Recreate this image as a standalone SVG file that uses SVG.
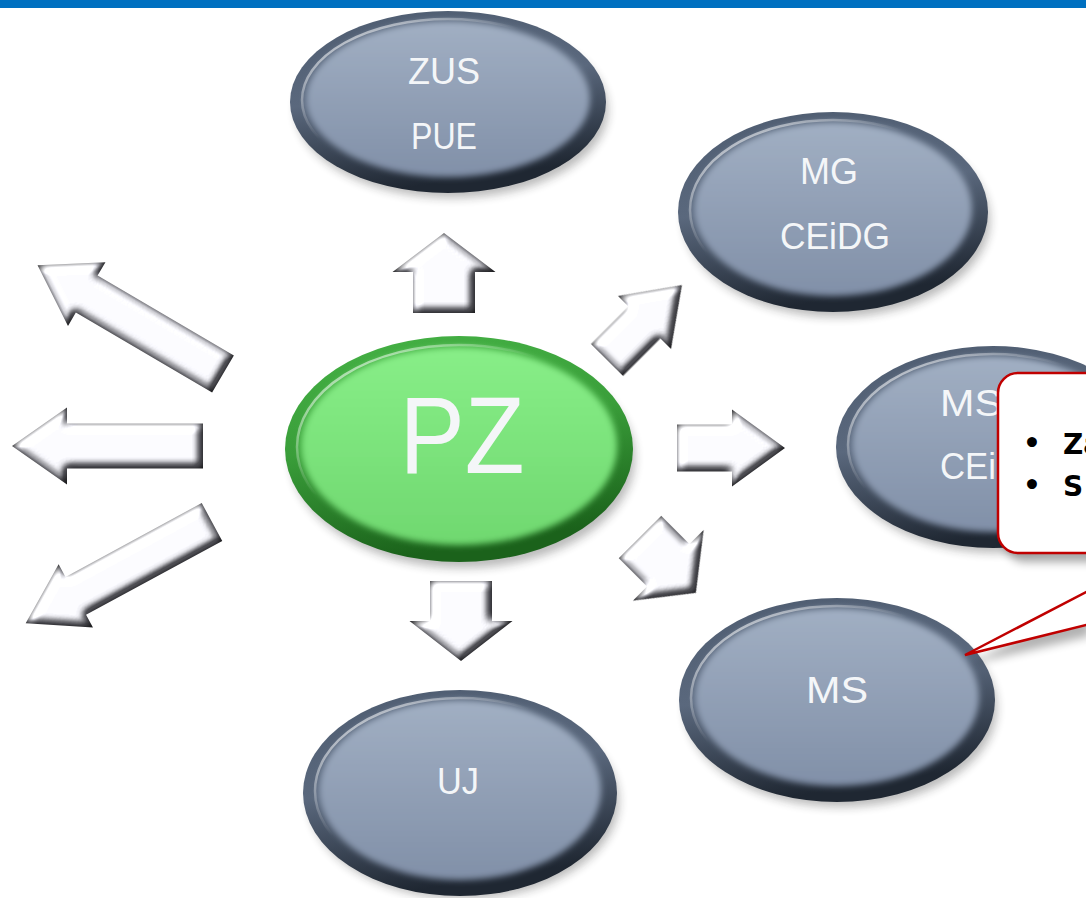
<svg xmlns="http://www.w3.org/2000/svg" width="1086" height="898" viewBox="0 0 1086 898">
<defs>
<style>
.rim{fill:url(#rimG)}
.face{fill:url(#faceG);filter:url(#soft)}
.hl{fill:none;stroke:url(#hlG);stroke-width:2.5}
.grim{fill:url(#grimG)}
.gface{fill:url(#gfaceG);filter:url(#soft)}
.shadow{fill:#1a1a1a;opacity:0.3;filter:url(#blur)}
.lbl{font-family:"Liberation Sans",Arial,sans-serif;fill:#F4F6F8;text-anchor:middle;font-size:36px}
.big{font-size:110px}
.arr{fill:#ffffff}
.ctext{font-family:"DejaVu Sans",Verdana,sans-serif;font-weight:bold;font-size:28px;fill:#000}
</style>
<linearGradient id="rimG" x1="0" y1="0" x2="0.25" y2="1">
<stop offset="0" stop-color="#4E5C70"/><stop offset="0.5" stop-color="#5A687D"/><stop offset="1" stop-color="#1F2732"/>
</linearGradient>
<linearGradient id="faceG" x1="0" y1="0" x2="0" y2="1">
<stop offset="0" stop-color="#A1AFC3"/><stop offset="1" stop-color="#8190A8"/>
</linearGradient>
<linearGradient id="hlG" x1="0" y1="0" x2="1" y2="1">
<stop offset="0" stop-color="#ffffff" stop-opacity="0.85"/><stop offset="0.4" stop-color="#ffffff" stop-opacity="0"/>
</linearGradient>
<linearGradient id="grimG" x1="0" y1="0" x2="0.25" y2="1">
<stop offset="0" stop-color="#45B245"/><stop offset="0.5" stop-color="#3A9E3A"/><stop offset="1" stop-color="#1B621B"/>
</linearGradient>
<linearGradient id="gfaceG" x1="0" y1="0" x2="0" y2="1">
<stop offset="0" stop-color="#88EE88"/><stop offset="1" stop-color="#70D870"/>
</linearGradient>
<filter id="blur" x="-20%" y="-20%" width="140%" height="160%"><feGaussianBlur stdDeviation="5"/></filter>
<filter id="soft" x="-10%" y="-10%" width="120%" height="120%"><feGaussianBlur stdDeviation="3"/></filter>
<filter id="bev" x="-5%" y="-5%" width="110%" height="110%" color-interpolation-filters="sRGB">
<feGaussianBlur in="SourceAlpha" stdDeviation="4.5" result="b"/>
<feDiffuseLighting in="b" surfaceScale="10" diffuseConstant="1.25" lighting-color="#ffffff" result="d"><feDistantLight azimuth="225" elevation="50"/></feDiffuseLighting>
<feComponentTransfer in="d" result="d2"><feFuncR type="linear" slope="0.72" intercept="0.3"/><feFuncG type="linear" slope="0.72" intercept="0.3"/><feFuncB type="linear" slope="0.72" intercept="0.32"/></feComponentTransfer>
<feColorMatrix in="b" type="matrix" values="0 0 0 1 0  0 0 0 1 0  0 0 0 1 0  0 0 0 0 1" result="e"/>
<feComponentTransfer in="e" result="e2"><feFuncR type="linear" slope="1.35" intercept="-0.02"/><feFuncG type="linear" slope="1.35" intercept="-0.02"/><feFuncB type="linear" slope="1.35" intercept="-0.01"/></feComponentTransfer>
<feComposite in="d2" in2="e2" operator="arithmetic" k1="1" k2="0" k3="0" k4="0" result="m"/>
<feComposite in="m" in2="SourceAlpha" operator="in"/>
</filter>
</defs>

<rect x="0" y="0" width="1086" height="8" fill="#0070C0"/>

<g id="node-zus">
<ellipse class="shadow" cx="452" cy="110" rx="156" ry="88"/>
<ellipse class="rim" cx="448" cy="102" rx="158" ry="91"/>
<ellipse class="face" cx="448" cy="99" rx="142" ry="78"/>
<ellipse class="hl" cx="448" cy="100" rx="146" ry="81"/>
<text class="lbl" x="444" y="84" textLength="72" lengthAdjust="spacingAndGlyphs">ZUS</text>
<text class="lbl" x="444" y="149" textLength="66" lengthAdjust="spacingAndGlyphs">PUE</text>
</g>

<g id="node-mg">
<ellipse class="shadow" cx="837" cy="220" rx="153" ry="97"/>
<ellipse class="rim" cx="833" cy="212" rx="155" ry="100"/>
<ellipse class="face" cx="833" cy="209" rx="139" ry="87"/>
<ellipse class="hl" cx="833" cy="210" rx="143" ry="90"/>
<text class="lbl" x="829" y="184" textLength="58" lengthAdjust="spacingAndGlyphs">MG</text>
<text class="lbl" x="835" y="249" textLength="110" lengthAdjust="spacingAndGlyphs">CEiDG</text>
</g>

<g id="node-ms-ceidg">
<ellipse class="shadow" cx="997" cy="455" rx="155" ry="98"/>
<ellipse class="rim" cx="993" cy="447" rx="157" ry="101"/>
<ellipse class="face" cx="993" cy="444" rx="141" ry="88"/>
<ellipse class="hl" cx="993" cy="445" rx="145" ry="91"/>
<text class="lbl" x="971" y="416" textLength="62" lengthAdjust="spacingAndGlyphs">MS</text>
<text class="lbl" x="940" y="479" style="text-anchor:start" textLength="56" lengthAdjust="spacingAndGlyphs">CEi</text>
</g>

<g id="node-ms">
<ellipse class="shadow" cx="841" cy="708" rx="156" ry="99"/>
<ellipse class="rim" cx="837" cy="700" rx="158" ry="102"/>
<ellipse class="face" cx="837" cy="697" rx="142" ry="89"/>
<ellipse class="hl" cx="837" cy="698" rx="146" ry="92"/>
<text class="lbl" x="837" y="703" textLength="62" lengthAdjust="spacingAndGlyphs">MS</text>
</g>

<g id="node-uj">
<ellipse class="shadow" cx="464" cy="801" rx="155" ry="98"/>
<ellipse class="rim" cx="460" cy="793" rx="157" ry="103"/>
<ellipse class="face" cx="460" cy="790" rx="141" ry="90"/>
<ellipse class="hl" cx="460" cy="791" rx="145" ry="93"/>
<text class="lbl" x="458" y="794" textLength="42" lengthAdjust="spacingAndGlyphs">UJ</text>
</g>

<g id="node-pz">
<ellipse class="shadow" cx="463" cy="458" rx="172" ry="110"/>
<ellipse class="grim" cx="459" cy="449" rx="174" ry="113"/>
<ellipse class="gface" cx="459" cy="446" rx="158" ry="99"/>
<ellipse class="hl" cx="459" cy="447" rx="162" ry="102"/>
<text class="lbl big" x="462" y="473" textLength="125" lengthAdjust="spacingAndGlyphs">PZ</text>
</g>

<g id="connectors" filter="url(#bev)">
<polygon class="arr" transform="translate(444,313) rotate(-90)" points="0,-31 41,-31 41,-51.5 80,0 41,51.5 41,31 0,31"/>
<polygon class="arr" transform="translate(607,360) rotate(-45)" points="0,-22.5 53,-22.5 53,-37.5 106,0 53,37.5 53,22.5 0,22.5"/>
<polygon class="arr" transform="translate(677,448) rotate(0)" points="0,-23.5 55,-23.5 55,-38.5 108,0 55,38.5 55,23.5 0,23.5"/>
<polygon class="arr" transform="translate(640,537) rotate(45)" points="0,-30 40,-30 40,-50 79,0 40,50 40,30 0,30"/>
<polygon class="arr" transform="translate(461,581) rotate(90)" points="0,-31 40,-31 40,-51.5 80,0 40,51.5 40,31 0,31"/>
<polygon class="arr" transform="translate(223,374) rotate(210.4)" points="0,-21.5 158,-21.5 158,-37 215,0 158,37 158,21.5 0,21.5"/>
<polygon class="arr" transform="translate(203,446) rotate(180)" points="0,-22.5 136,-22.5 136,-38.5 191,0 136,38.5 136,22.5 0,22.5"/>
<polygon class="arr" transform="translate(212,522) rotate(151.5)" points="0,-21.5 155,-21.5 155,-36 212,0 155,36 155,21.5 0,21.5"/>
</g>

<g id="callout">
<rect x="1005" y="382" width="140" height="180" rx="20" fill="#000" opacity="0.35" filter="url(#blur)"/>
<polygon points="1090,600 970,664 1090,636" fill="#000" opacity="0.3" filter="url(#blur)"/>
<rect x="998" y="373" width="140" height="180" rx="20" fill="#ffffff" stroke="#C00000" stroke-width="2.5"/>
<polygon points="1090,590 965,655 1090,624" fill="#ffffff" stroke="#C00000" stroke-width="2.5" stroke-linejoin="miter"/>
<text class="ctext" x="1023" y="453">•</text>
<text class="ctext" x="1063" y="454">Za</text>
<text class="ctext" x="1023" y="495">•</text>
<text class="ctext" x="1063" y="496">S</text>
</g>
</svg>
